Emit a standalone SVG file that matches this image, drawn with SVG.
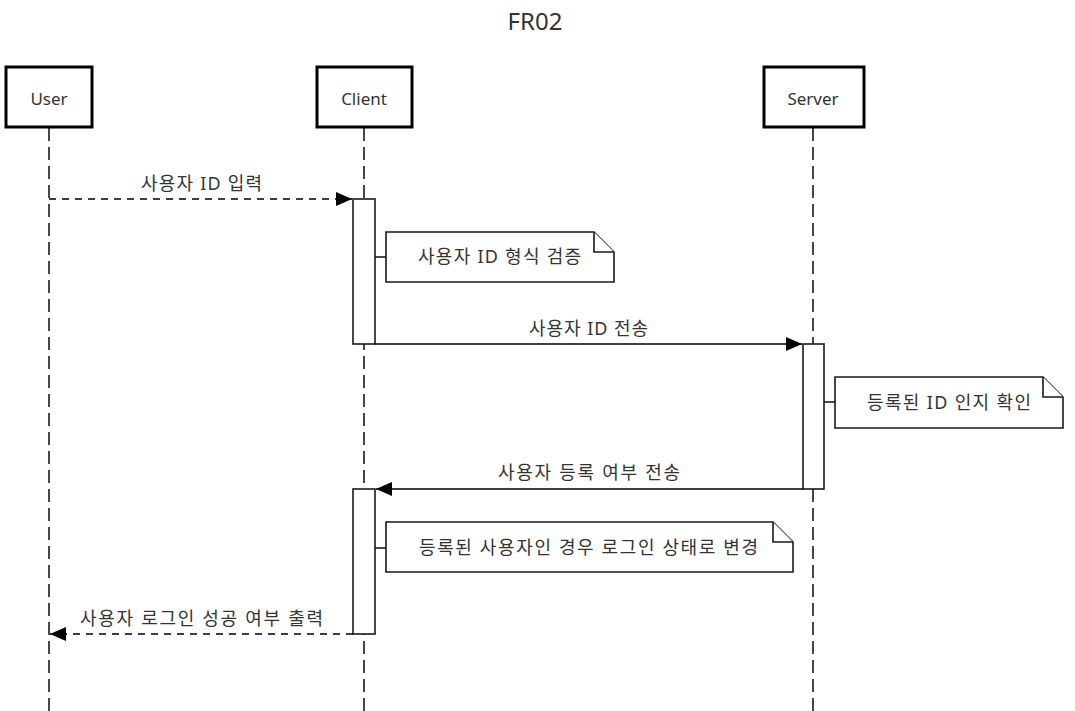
<svg xmlns="http://www.w3.org/2000/svg" width="1075" height="711" viewBox="0 0 1075 711">
<style>
text{font-family:"Noto Sans","Noto Sans CJK KR",sans-serif;fill:#333;}
.lbl{font-size:18px;text-anchor:middle;}
.actor rect{fill:#fff;stroke:#000;stroke-width:3;}
.actor text{font-size:17px;text-anchor:middle;}
.life{stroke:#1a1a1a;stroke-width:1.6;stroke-dasharray:13 6;fill:none;}
.act{fill:#fff;stroke:#1a1a1a;stroke-width:1.6;}
.note path{fill:#fff;stroke:#1a1a1a;stroke-width:1.6;}
.msg{stroke:#000;stroke-width:1.6;fill:none;}
.dash{stroke-dasharray:7 6;}
</style>
<defs>
<marker id="ah" viewBox="0 0 16 14" refX="16" refY="7" markerWidth="16" markerHeight="14" markerUnits="userSpaceOnUse" orient="auto">
<path d="M0,0 L16,7 L0,14 Z" fill="#000"/>
</marker>
</defs>
<rect width="1075" height="711" fill="#fff"/>
<text x="535" y="30" style="font-size:24px;text-anchor:middle">FR02</text>

<g id="lifelines">
<line class="life" x1="49" y1="128" x2="49" y2="711"/>
<line class="life" x1="364" y1="128" x2="364" y2="711"/>
<line class="life" x1="813" y1="128" x2="813" y2="711"/>
</g>

<g id="user" class="actor">
<rect x="6" y="67" width="86" height="60"/>
<text x="49" y="105">User</text>
</g>
<g id="client" class="actor">
<rect x="317" y="67" width="95" height="60"/>
<text x="364" y="105">Client</text>
</g>
<g id="server" class="actor">
<rect x="764" y="67" width="100" height="60"/>
<text x="813" y="105">Server</text>
</g>

<g id="activations">
<rect class="act" x="353" y="199" width="22" height="145"/>
<rect class="act" x="803" y="344" width="21" height="145"/>
<rect class="act" x="353" y="489" width="22" height="145"/>
</g>

<g id="note1" class="note">
<path d="M375,257 H386"/>
<path d="M386,232 H594 L614,252 V282 H386 Z"/>
<path d="M594,232 V252 H614"/>
<text class="lbl" x="499.5" y="263" textLength="163" lengthAdjust="spacing">사용자 ID 형식 검증</text>
</g>
<g id="note2" class="note">
<path d="M824,402 H835"/>
<path d="M835,377 H1043 L1063,397 V428 H835 Z"/>
<path d="M1043,377 V397 H1063"/>
<text class="lbl" x="949" y="409" textLength="164" lengthAdjust="spacing">등록된 ID 인지 확인</text>
</g>
<g id="note3" class="note">
<path d="M375,548 H386"/>
<path d="M386,522 H773 L793,542 V572 H386 Z"/>
<path d="M773,522 V542 H793"/>
<text class="lbl" x="588.5" y="554" textLength="339" lengthAdjust="spacing">등록된 사용자인 경우 로그인 상태로 변경</text>
</g>

<g id="connectors">
<line class="msg dash" x1="49" y1="199" x2="352" y2="199" marker-end="url(#ah)"/>
<text class="lbl" x="201.5" y="190" textLength="121" lengthAdjust="spacing">사용자 ID 입력</text>
<line class="msg" x1="375" y1="344" x2="802" y2="344" marker-end="url(#ah)"/>
<text class="lbl" x="588.5" y="335" textLength="119" lengthAdjust="spacing">사용자 ID 전송</text>
<line class="msg" x1="803" y1="489" x2="376" y2="489" marker-end="url(#ah)"/>
<text class="lbl" x="589" y="479" textLength="182" lengthAdjust="spacing">사용자 등록 여부 전송</text>
<line class="msg dash" x1="353" y1="634" x2="50" y2="634" marker-end="url(#ah)"/>
<text class="lbl" x="201.5" y="625" textLength="243" lengthAdjust="spacing">사용자 로그인 성공 여부 출력</text>
</g>
</svg>
